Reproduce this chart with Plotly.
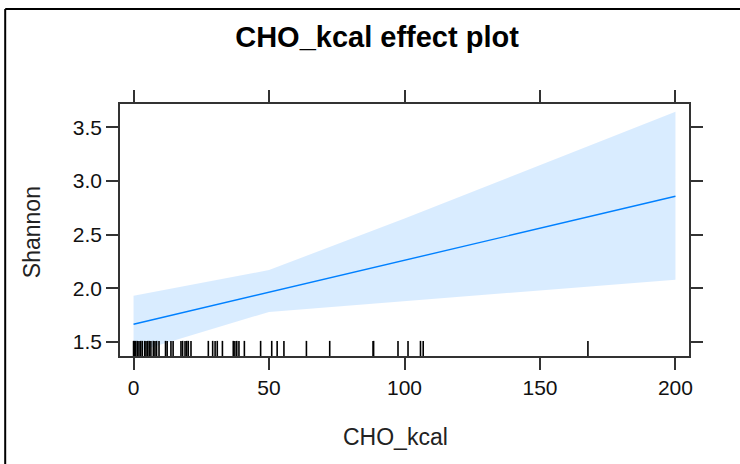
import plotly.graph_objects as go

# Effect fit (sampled at the effect's x levels)
cho_levels = [0, 50, 100, 150, 200]
fit = [1.665, 1.963, 2.261, 2.559, 2.857]
lower = [1.40, 1.78, 1.88, 1.98, 2.08]
upper = [1.93, 2.17, 2.65, 3.145, 3.645]

# Rug of observed CHO_kcal values
rug_values = [0, 0.3, 0.8, 1.4, 2.0, 2.6, 3.2, 4.1, 4.6, 5.2, 5.8, 6.4, 7.3, 7.9, 8.5, 9.4,
              11.8, 12.4, 13.8, 14.6, 17.5, 18.1, 19.0, 19.6, 20.2, 21.2, 27.6, 29.2, 30.1,
              30.9, 32.8, 36.8, 37.4, 38.1, 38.9, 40.9, 46.9, 51.0, 53.0, 55.5, 63.8, 72.4,
              88.4, 88.6, 97.6, 101.3, 105.9, 106.9, 167.7]

x_ticks = [0, 50, 100, 150, 200]
y_ticks = [1.5, 2.0, 2.5, 3.0, 3.5]
y_tick_text = ["1.5", "2.0", "2.5", "3.0", "3.5"]

FONT = "Liberation Sans, Arial, sans-serif"
LINE_COL = "#0080FF"
BAND_COL = "rgba(0,128,255,0.15)"

fig = go.Figure()

# confidence band
fig.add_trace(go.Scatter(
    x=cho_levels + cho_levels[::-1],
    y=upper + lower[::-1],
    fill="toself", fillcolor=BAND_COL, line=dict(width=0),
    mode="lines", hoverinfo="skip", showlegend=False))

# fitted line
fig.add_trace(go.Scatter(
    x=cho_levels, y=fit, mode="lines",
    line=dict(color=LINE_COL, width=1.4), showlegend=False))

# rug
rx, ry = [], []
for v in rug_values:
    rx += [v, v, None]
    ry += [0, 0.06, None]
fig.add_trace(go.Scatter(
    x=rx, y=ry, mode="lines", yaxis="y2",
    line=dict(color="black", width=1.6), showlegend=False, hoverinfo="skip"))

axis_common = dict(
    showline=True, mirror="ticks", linecolor="#333333", linewidth=1.5,
    ticks="outside", ticklen=12, tickwidth=1.5, tickcolor="#333333",
    showgrid=False, zeroline=False,
    tickfont=dict(family=FONT, size=21, color="#111111"),
)

fig.update_layout(
    width=740, height=464,
    margin=dict(l=120, r=51, t=104, b=108),
    paper_bgcolor="white", plot_bgcolor="white",
    xaxis=dict(range=[-5, 205], tickvals=x_ticks, ticktext=[str(t) for t in x_ticks],
               **axis_common),
    yaxis=dict(range=[1.369, 3.717], tickvals=y_ticks, ticktext=y_tick_text,
               **axis_common),
    yaxis2=dict(overlaying="y", range=[0, 1], visible=False, fixedrange=True),
    title=dict(text="<b>CHO_kcal effect plot</b>", xref="paper", x=(377.5 - 120) / 570,
               xanchor="center", yref="container", y=1 - 37 / 464, yanchor="middle",
               font=dict(family=FONT, size=29, color="black")),
    annotations=[
        dict(text="CHO_kcal", xref="paper", yref="paper", x=(396 - 120) / 570, y=(356 - 437) / 252,
             showarrow=False, xanchor="center", yanchor="middle",
             font=dict(family=FONT, size=23, color="#222222")),
        dict(text="Shannon", xref="paper", yref="paper", x=(32 - 120) / 570, y=(356 - 232) / 252,
             textangle=-90, showarrow=False, xanchor="center", yanchor="middle",
             font=dict(family=FONT, size=23, color="#222222")),
    ],
    shapes=[
        dict(type="line", xref="paper", yref="paper",
             x0=(5 - 120) / 570, x1=(745 - 120) / 570,
             y0=(356 - 9) / 252, y1=(356 - 9) / 252,
             line=dict(color="black", width=2)),
        dict(type="line", xref="paper", yref="paper",
             x0=(5 - 120) / 570, x1=(5 - 120) / 570,
             y0=(356 - 9) / 252, y1=(356 - 470) / 252,
             line=dict(color="black", width=2)),
    ],
)

fig.write_html("out.html")
